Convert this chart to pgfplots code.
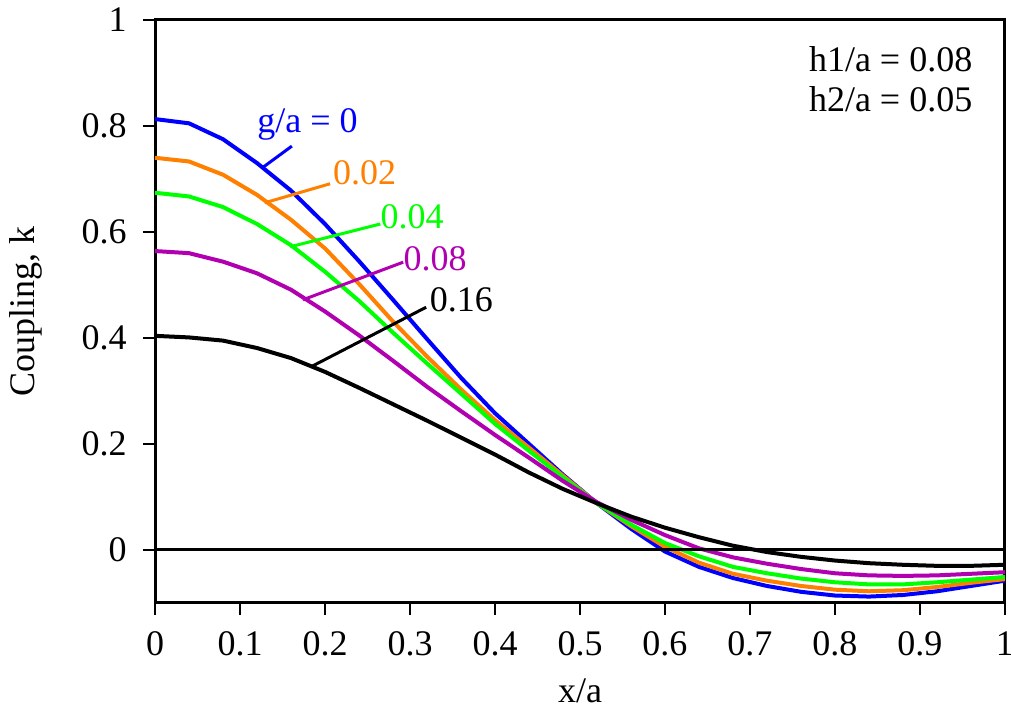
\documentclass[border=0pt]{standalone}
\usepackage{fontspec}
\setmainfont{Liberation Serif}
\usepackage{pgfplots}
\pgfplotsset{compat=1.18}

\definecolor{cblue}{HTML}{0000FF}
\definecolor{corange}{HTML}{FF8000}
\definecolor{cgreen}{HTML}{00FF00}
\definecolor{cpurple}{HTML}{B000B0}

% x/a  g/a=0  0.02  0.04  0.08  0.16
\pgfplotstableread{
x     g0     g02    g04    g08    g16
0.00  0.813  0.740  0.674  0.564  0.404
0.04  0.805  0.733  0.667  0.560  0.401
0.08  0.775  0.708  0.647  0.544  0.395
0.12  0.730  0.670  0.615  0.522  0.381
0.16  0.678  0.623  0.575  0.491  0.362
0.20  0.615  0.569  0.525  0.450  0.336
0.24  0.545  0.502  0.470  0.405  0.306
0.28  0.472  0.431  0.410  0.357  0.275
0.32  0.398  0.365  0.352  0.308  0.244
0.36  0.325  0.303  0.295  0.262  0.212
0.40  0.258  0.245  0.238  0.217  0.180
0.44  0.200  0.193  0.187  0.174  0.146
0.48  0.142  0.140  0.137  0.130  0.115
0.52  0.088  0.088  0.088  0.090  0.088
0.56  0.040  0.045  0.048  0.057  0.063
0.60 -0.003  0.006  0.013  0.028  0.042
0.64 -0.032 -0.024 -0.012  0.003  0.024
0.68 -0.053 -0.045 -0.032 -0.014  0.008
0.72 -0.068 -0.058 -0.044 -0.026 -0.004
0.76 -0.079 -0.068 -0.054 -0.036 -0.013
0.80 -0.086 -0.075 -0.061 -0.044 -0.020
0.84 -0.088 -0.078 -0.065 -0.048 -0.025
0.88 -0.085 -0.076 -0.065 -0.049 -0.028
0.92 -0.078 -0.070 -0.061 -0.048 -0.030
0.96 -0.068 -0.062 -0.056 -0.045 -0.030
1.00 -0.058 -0.055 -0.051 -0.042 -0.028
}\coupling

\begin{document}
\fontsize{18}{20}\selectfont
\begin{tikzpicture}
\begin{axis}[
  scale only axis, width=425pt, height=291.5pt,
  xmin=0, xmax=1, ymin=-0.1, ymax=1,
  xtick={0,0.1,...,1.01}, ytick={0,0.2,0.4,0.6,0.8,1},
  tick pos=left, tick align=outside, major tick length=6pt,
  major tick style={black, line width=0.7pt},
  axis line style={line width=1.5pt},
  /pgf/number format/assume math mode=true,
  xticklabel style={/pgf/number format/fixed, yshift=-2pt},
  yticklabel style={/pgf/number format/fixed, xshift=-2pt},
  xlabel={x/a}, ylabel={Coupling, k},
  xlabel style={at={(axis description cs:0.5,-0.15)}, anchor=center},
  ylabel style={at={(axis description cs:-0.152,0.5)}, anchor=center},
  clip=false,
]
\addplot[cblue, line width=2pt] table[x=x, y=g0] {\coupling};
\addplot[corange, line width=2pt] table[x=x, y=g02] {\coupling};
\addplot[cgreen, line width=2pt] table[x=x, y=g04] {\coupling};
\addplot[cpurple, line width=2pt] table[x=x, y=g08] {\coupling};
\addplot[black, line width=2pt] table[x=x, y=g16] {\coupling};
\addplot[black, line width=1.5pt] coordinates {(0,0) (1,0)};

% curve labels with leader lines
\draw[cblue, line width=1.5pt] (axis cs:0.127,0.722) -- (axis cs:0.161,0.762);
\node[cblue, anchor=base west, inner sep=0pt] at (axis cs:0.120,0.787) {g/a = 0};
\draw[corange, line width=1.5pt] (axis cs:0.129,0.655) -- (axis cs:0.206,0.691);
\node[corange, anchor=base west, inner sep=0pt] at (axis cs:0.209,0.689) {0.02};
\draw[cgreen, line width=1.5pt] (axis cs:0.159,0.572) -- (axis cs:0.265,0.615);
\node[cgreen, anchor=base west, inner sep=0pt] at (axis cs:0.265,0.607) {0.04};
\draw[cpurple, line width=1.5pt] (axis cs:0.174,0.472) -- (axis cs:0.292,0.543);
\node[cpurple, anchor=base west, inner sep=0pt] at (axis cs:0.292,0.528) {0.08};
\draw[black, line width=1.5pt] (axis cs:0.184,0.346) -- (axis cs:0.319,0.458);
\node[black, anchor=base west, inner sep=0pt] at (axis cs:0.323,0.450) {0.16};

\node[anchor=east, align=right, inner sep=0pt] at (axis cs:0.962,0.889)
  {h1/a = 0.08\\h2/a = 0.05};

\coordinate (bbsw) at (rel axis cs:-0.1824,-0.1852);
\coordinate (bbne) at (rel axis cs:1.0071,1.0343);
\end{axis}
\pgfresetboundingbox
\path[use as bounding box] (bbsw) rectangle (bbne);
\end{tikzpicture}
\end{document}
